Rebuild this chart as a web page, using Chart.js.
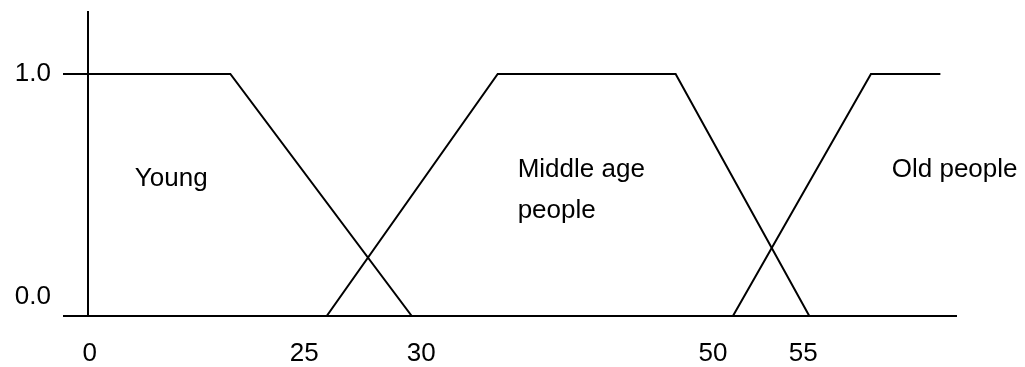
<!DOCTYPE html>
<html><head><meta charset="utf-8">
<script src="https://cdn.jsdelivr.net/npm/chart.js@4"></script>
<style>html,body{margin:0;padding:0;background:#fff}#wrap{width:1025px;height:367px;position:relative}</style>
</head><body><div id="wrap"><canvas id="c"></canvas></div>
<script>
// membership functions (x in diagram units 0..100 along the age axis, y = membership)
const youngX = [0, 16.4, 37.3];
const youngY = [1, 1, 0];
const middleX = [27.5, 47.2, 67.7, 83.1];
const middleY = [0, 1, 1, 0];
const oldX = [74.3, 90.2, 98.2];
const oldY = [0, 1, 1];
// x-axis tick labels (age) and where they sit on the axis
const xTickPos = [0.2, 24.9, 38.4, 72.0, 82.4];
const xTickLabels = ['0', '25', '30', '50', '55'];
// y-axis ticks
const yTickValues = [0, 1];
const yTickLabels = ['0.0', '1.0'];
// in-plot labels
const noteText = ['Young', 'Middle age', 'people', 'Old people'];
const noteX = [5.4, 49.5, 49.5, 92.6];
const noteY = [0.537, 0.574, 0.405, 0.574];

const FONT = "'Liberation Sans', Arial, sans-serif";
Chart.defaults.font.family = FONT;
Chart.defaults.font.size = 26;
Chart.defaults.color = '#000';

const pts = (xs, ys) => xs.map((x, i) => ({x, y: ys[i]}));
const lineDs = (label, xs, ys) => ({
  label, data: pts(xs, ys), borderColor: '#000', borderWidth: 2,
  pointRadius: 0, tension: 0, fill: false, showLine: true
});

const notes = {
  id: 'notes',
  afterDatasetsDraw(chart) {
    const {ctx, scales: {x, y}} = chart;
    ctx.save();
    ctx.font = '26px ' + FONT;
    ctx.fillStyle = '#000';
    ctx.textAlign = 'left';
    ctx.textBaseline = 'alphabetic';
    noteText.forEach((t, i) => ctx.fillText(t, x.getPixelForValue(noteX[i]), y.getPixelForValue(noteY[i])));
    ctx.restore();
  }
};

const noPad = s => { s.paddingTop = 0; s.paddingBottom = 0; s.paddingLeft = 0; s.paddingRight = 0; };

new Chart(document.getElementById('c'), {
  type: 'scatter',
  data: {
    datasets: [
      lineDs('Young', youngX, youngY),
      lineDs('Middle age people', middleX, middleY),
      lineDs('Old people', oldX, oldY)
    ]
  },
  options: {
    responsive: true, maintainAspectRatio: false, animation: false,
    layout: {padding: {left: 0, right: 69, top: 12, bottom: 0}},
    plugins: {legend: {display: false}, tooltip: {enabled: false}},
    scales: {
      x: {
        type: 'linear', min: 0, max: 100, position: 'bottom',
        afterBuildTicks: s => { s.ticks = xTickPos.map(v => ({value: v})); },
        afterFit: s => { s.height = 51; noPad(s); },
        ticks: {autoSkip: false, maxRotation: 0, padding: 22,
          callback: (v, i) => xTickLabels[i]},
        grid: {display: true, drawOnChartArea: false, drawTicks: false},
        border: {display: true, color: '#000', width: 2}
      },
      y: {
        type: 'linear', min: 0, max: 1.256, position: 'left',
        afterBuildTicks: s => { s.ticks = yTickValues.map(v => ({value: v})); },
        afterFit: s => { s.width = 88; noPad(s); },
        ticks: {
          padding: 12, autoSkip: false,
          font: c => (c.tick && c.tick.value === 0) ? {size: 26, lineHeight: 1.46} : {size: 26},
          callback: (v) => v === 0 ? [yTickLabels[0], ''] : yTickLabels[1]
        },
        grid: {display: true, drawOnChartArea: false, drawTicks: true, tickLength: 25, color: '#000', lineWidth: 2},
        border: {display: true, color: '#000', width: 2}
      }
    }
  },
  plugins: [notes]
});
</script></body></html>
